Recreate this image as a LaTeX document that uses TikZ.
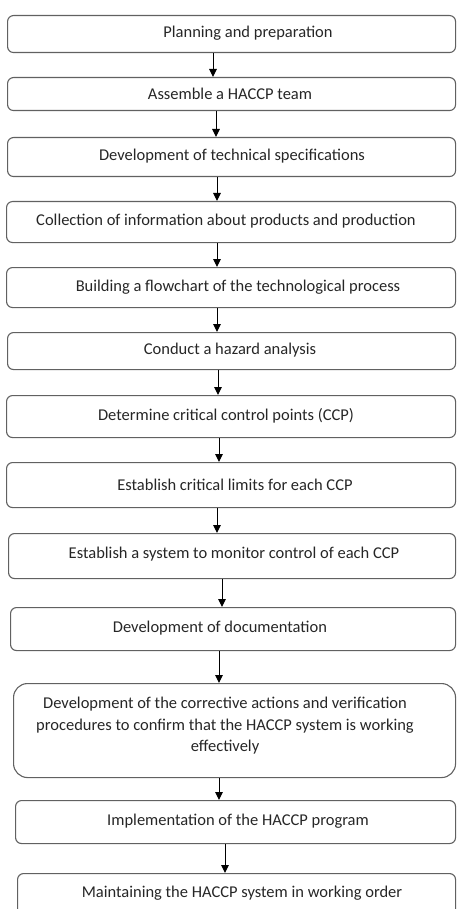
\documentclass[tikz,border=0pt]{standalone}
\usepackage{fontspec}
\setmainfont{Carlito}
\usetikzlibrary{arrows.meta}
\tikzset{box/.style={draw=black!62, line width=1.1pt, inner sep=0pt},
  boxtext/.style={text=black!85, font=\fontsize{16.5}{21.5}\selectfont, align=center, inner sep=0pt},
  arr/.style={black, line width=1pt, -{Triangle[length=8pt,width=7.5pt]}}}
\begin{document}
\begin{tikzpicture}[x=1pt,y=-1pt]
\useasboundingbox (0,0) rectangle (456,909);
\clip (0,0) rectangle (456,909);
% boxes: name / left / top / bottom / corner / text x / text y / text
\foreach \nm/\xl/\yt/\yb/\rc/\tx/\ty/\txt in {
 plan/7/15/52/6/248/33.5/{Planning and preparation},
 team/7/77/110/6/230/93.5/{Assemble a HACCP team},
 spec/7/137/176/6/232/156.5/{Development of technical specifications},
 info/6/201/242/6/226/221.5/{Collection of information about products and production},
 flow/6/267/307/6/238/287/{Building a flowchart of the technological process},
 hazard/7/332/369/6/230/350.5/{Conduct a hazard analysis},
 ccp/6/395/437/6/226/416/{Determine critical control points (CCP)},
 limits/6/462/507/6/235/484.5/{Establish critical limits for each CCP},
 monitor/8/533/578/6/234/554/{Establish a system to monitor control of each CCP},
 docs/10/607/650/6/220/628/{Development of documentation},
 correct/13/683/777/14/225/726/{Development of the corrective actions and verification\\procedures to confirm that the HACCP system is working\\effectively},
 impl/15/800/843/6/238/821.5/{Implementation of the HACCP program},
 maint/17/873/925/6/242/893/{Maintaining the HACCP system in working order}} {
 \node[box, rounded corners=\rc, anchor=north west, minimum width={(455-\xl)*1pt},
   minimum height={(\yb-\yt)*1pt}] (\nm) at (\xl,\yt) {};
 \node[boxtext] (\nm-t) at (\tx,\ty) {\txt};
}
% arrows
\foreach \a/\c/\x in {plan/team/213, team/spec/216, spec/info/217, info/flow/217,
 flow/hazard/217, hazard/ccp/218, ccp/limits/219, limits/monitor/217,
 monitor/docs/222, docs/correct/219, correct/impl/219, impl/maint/225}
 \draw[arr] (\a.south -| \x,0) -- (\c.north -| \x,0);
\end{tikzpicture}
\end{document}
